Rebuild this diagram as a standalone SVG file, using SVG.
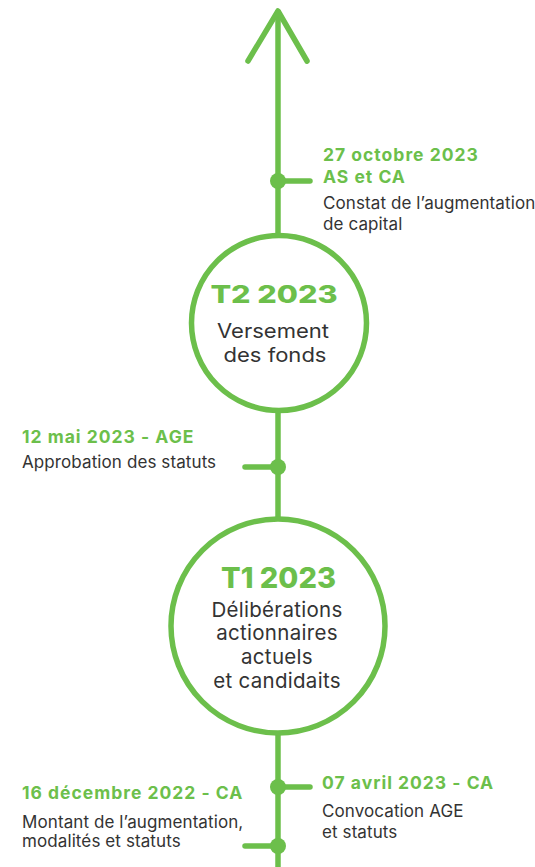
<svg xmlns="http://www.w3.org/2000/svg" width="535" height="867" viewBox="0 0 535 867">
  <style>
    .line { stroke: #6cbf4b; stroke-width: 5.5; fill: none; stroke-linecap: round; stroke-linejoin: round; }
    .ring { stroke: #6cbf4b; stroke-width: 5.5; fill: #ffffff; }
    .dot { fill: #6cbf4b; }
    .date { font-family: Inter, "Liberation Sans", sans-serif; font-weight: 700; font-size: 17.5px; letter-spacing: 1px; fill: #6cbf4b; }
    .desc { font-family: Inter, "Liberation Sans", sans-serif; font-size: 17px; letter-spacing: 0.1px; fill: #333333; }
    .title { font-family: Inter, "Liberation Sans", sans-serif; font-weight: 800; fill: #6cbf4b; text-anchor: middle; }
    .body { font-family: Inter, "Liberation Sans", sans-serif; fill: #333333; text-anchor: middle; }
  </style>
  <rect width="535" height="867" fill="#ffffff"/>

  <g id="connectors">
    <line class="line" x1="278" y1="12" x2="278" y2="870"/>
    <polyline class="line" points="248,61 278,11 307,61"/>
    <line class="line" x1="278" y1="181" x2="310" y2="181"/>
    <line class="line" x1="245" y1="467" x2="278" y2="467"/>
    <line class="line" x1="278" y1="787" x2="310" y2="787"/>
    <line class="line" x1="245" y1="846" x2="278" y2="846"/>
  </g>

  <g id="event-oct-2023">
    <circle class="dot" cx="278" cy="181" r="8"/>
    <text class="date" x="323" y="161">27 octobre 2023</text>
    <text class="date" x="323" y="183">AS et CA</text>
    <text class="desc" x="323" y="209">Constat de l’augmentation</text>
    <text class="desc" x="323" y="230">de capital</text>
  </g>

  <g id="t2-2023">
    <circle class="ring" cx="279" cy="323" r="87.5"/>
    <text class="title" font-size="24.5" transform="translate(274,303) scale(1.25,1)">T2 2023</text>
    <text class="body" font-size="19.5" transform="translate(273,338) scale(1.13,1)">Versement</text>
    <text class="body" font-size="19.5" transform="translate(275,362) scale(1.13,1)">des fonds</text>
  </g>

  <g id="event-mai-2023">
    <circle class="dot" cx="278" cy="467" r="8"/>
    <text class="date" x="22" y="443">12 mai 2023 - AGE</text>
    <text class="desc" x="22" y="468">Approbation des statuts</text>
  </g>

  <g id="t1-2023">
    <circle class="ring" cx="278" cy="626" r="107"/>
    <text class="title" font-size="29" x="278.5" y="588">T1 2023</text>
    <text class="body" font-size="20.5" x="277" y="617" letter-spacing="0.3">Délibérations</text>
    <text class="body" font-size="20.5" x="277" y="640" letter-spacing="0.3">actionnaires</text>
    <text class="body" font-size="20.5" x="277" y="664" letter-spacing="0.3">actuels</text>
    <text class="body" font-size="20.5" x="277" y="688" letter-spacing="0.3">et candidaits</text>
  </g>

  <g id="event-avr-2023">
    <circle class="dot" cx="278" cy="787" r="8"/>
    <text class="date" x="322" y="789">07 avril 2023 - CA</text>
    <text class="desc" x="322" y="817">Convocation AGE</text>
    <text class="desc" x="322" y="838">et statuts</text>
  </g>

  <g id="event-dec-2022">
    <circle class="dot" cx="278" cy="846" r="8"/>
    <text class="date" x="22" y="799">16 décembre 2022 - CA</text>
    <text class="desc" x="22" y="828">Montant de l’augmentation,</text>
    <text class="desc" x="22" y="847">modalités et statuts</text>
  </g>
</svg>
